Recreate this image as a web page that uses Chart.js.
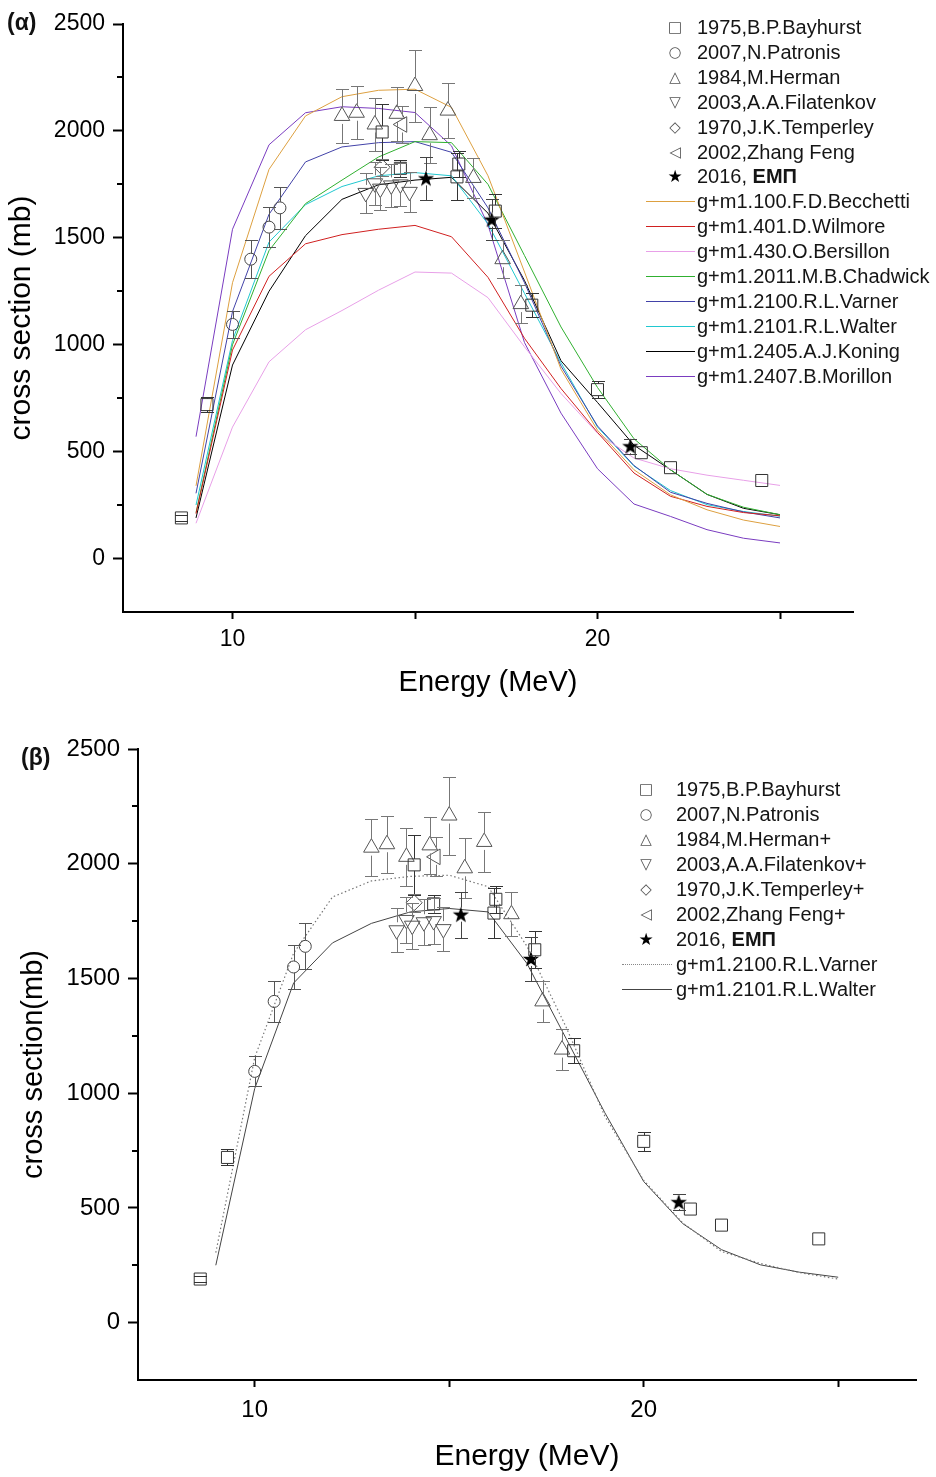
<!DOCTYPE html>
<html>
<head>
<meta charset="utf-8">
<script src="https://cdn.jsdelivr.net/npm/chart.js@4.4.1/dist/chart.umd.min.js"></script>
<style>
  html,body{margin:0;padding:0;background:#fff;}
  body{width:936px;height:1477px;position:relative;overflow:hidden;font-family:"Liberation Sans",Arial,sans-serif;color:#111;}
  canvas{position:absolute;left:0;}
  #ca{top:0;}
  #cb{top:700px;}
  .panel{position:absolute;font-weight:bold;font-size:23px;line-height:26px;}
  .lrow{position:absolute;height:24px;line-height:24px;font-size:20px;white-space:nowrap;color:#151515;}
  .sym{position:absolute;width:24px;text-align:center;font-family:"DejaVu Sans",sans-serif;font-size:15px;color:#555;}
  .seg{position:absolute;height:1px;}
</style>
</head>
<body>
<canvas id="ca" width="936" height="700"></canvas>
<canvas id="cb" width="936" height="777"></canvas>
<div class="panel" style="left:7px;top:9px;">(α)</div>
<div class="panel" style="left:21px;top:744px;">(β)</div>
<div id="lega"></div>
<div id="legb"></div>
<script>
// ---------------- DATA ----------------
// Experimental data (Energy in MeV, cross section in mb, error in mb; 0 = no bar shown)
const bayhurstE   = [8.6, 9.3, 14.1, 14.6, 16.15, 16.2, 17.2, 18.2, 20.0, 21.2, 22.0, 24.5];
const bayhurstV   = [190, 720, 1995, 1825, 1785, 1845, 1625, 1185, 790, 495, 425, 365];
const bayhurstErr = [15, 35, 130, 40, 110, 60, 80, 55, 40, 0, 0, 0];

const patronisE   = [10.0, 10.5, 11.0, 11.3];
const patronisV   = [1095, 1400, 1550, 1640];
const patronisErr = [65, 90, 95, 100];

const hermanE     = [13.0, 13.4, 13.9, 14.5, 15.0, 15.4, 15.9, 16.6, 17.4, 17.9];
const hermanV     = [2070, 2085, 2030, 2080, 2210, 1980, 2095, 1780, 1400, 1190];
const hermanErr   = [125, 125, 125, 125, 170, 130, 130, 95, 90, 90];

const filatE      = [13.65, 13.9, 14.05, 14.35, 14.6, 14.85];
const filatV      = [1710, 1755, 1730, 1745, 1750, 1715];
const filatErr    = [95, 100, 100, 100, 100, 95];

const temperleyE  = [14.1];
const temperleyV  = [1830];
const temperleyErr= [40];

const zhangE      = [14.65];
const zhangV      = [2030];
const zhangErr    = [85];

const empE        = [15.3, 17.1, 20.9];
const empV        = [1778, 1585, 525];
const empErr      = [100, 95, 35];

// Model calculations (g+m1 curves)
const modelE    = [9,10,11,12,13,14,15,16,17,18,19,20,21,22,23,24,25];
const becchetti = [340,1290,1820,2070,2160,2190,2195,2110,1790,1340,885,600,415,298,228,180,150];
const wilmore   = [210,975,1320,1472,1515,1540,1558,1505,1315,1030,795,590,400,291,244,215,200];
const bersillon = [165,615,920,1070,1160,1255,1340,1335,1220,990,772,586,470,420,390,366,342];
const chadwick  = [215,1000,1440,1660,1770,1878,1950,1945,1750,1417,1083,800,560,415,300,240,205];
const varner    = [305,1155,1610,1855,1925,1945,1950,1900,1640,1290,900,620,435,310,258,218,190];
const walter    = [250,1020,1480,1655,1740,1790,1805,1790,1565,1240,915,615,432,318,252,220,198];
const koning    = [190,905,1250,1510,1680,1748,1770,1783,1615,1300,925,730,530,415,300,235,205];
const morillon  = [570,1540,1935,2085,2113,2105,2086,1930,1560,1010,680,420,255,197,135,95,73];

// Tick values
const xTicks = [10, 15, 20, 25];
const yTicks = [0, 250, 500, 750, 1000, 1250, 1500, 1750, 2000, 2250, 2500];

// Labels
const expLabelsA = ['1975,B.P.Bayhurst','2007,N.Patronis','1984,M.Herman','2003,A.A.Filatenkov','1970,J.K.Temperley','2002,Zhang Feng','2016, '];
const expLabelsB = ['1975,B.P.Bayhurst','2007,N.Patronis','1984,M.Herman+','2003,A.A.Filatenkov+','1970,J.K.Temperley+','2002,Zhang Feng+','2016, '];
const empBold = 'ΕΜΠ';
const modelLabels = ['g+m1.100.F.D.Becchetti','g+m1.401.D.Wilmore','g+m1.430.O.Bersillon','g+m1.2011.M.B.Chadwick','g+m1.2100.R.L.Varner','g+m1.2101.R.L.Walter','g+m1.2405.A.J.Koning','g+m1.2407.B.Morillon'];

// ---------------- HELPERS ----------------
function pts(E, V){ return E.map((e,i)=>({x:e, y:V[i]})); }

function starImage(){
  const c = document.createElement('canvas');
  c.width = 18; c.height = 18;
  const g = c.getContext('2d');
  g.fillStyle = '#000';
  g.beginPath();
  for (let i=0;i<10;i++){
    const r = (i%2) ? 3.4 : 8.6;
    const a = -Math.PI/2 + i*Math.PI/5;
    g.lineTo(9 + r*Math.cos(a), 9.5 + r*Math.sin(a));
  }
  g.closePath(); g.fill();
  return c;
}
const STAR = starImage();

function expDatasets(labels){
  const base = {showLine:false, backgroundColor:'rgba(0,0,0,0)', pointBorderWidth:1, order:0};
  return [
    Object.assign({label:labels[0], data:pts(bayhurstE,bayhurstV), err:bayhurstErr, errColor:'#333', gap:6,
      pointStyle:'rect', pointRadius:8.5, borderColor:'#333'}, base),
    Object.assign({label:labels[1], data:pts(patronisE,patronisV), err:patronisErr, errColor:'#555', gap:6,
      pointStyle:'circle', pointRadius:6, borderColor:'#444'}, base),
    Object.assign({label:labels[2], data:pts(hermanE,hermanV), err:hermanErr, errColor:'#777', gap:8,
      pointStyle:'triangle', pointRadius:9, borderColor:'#555'}, base),
    Object.assign({label:labels[3], data:pts(filatE,filatV), err:filatErr, errColor:'#777', gap:8,
      pointStyle:'triangle', pointRotation:180, pointRadius:9, borderColor:'#555'}, base),
    Object.assign({label:labels[4], data:pts(temperleyE,temperleyV), err:temperleyErr, errColor:'#777', gap:7,
      pointStyle:'rectRot', pointRadius:8, borderColor:'#555'}, base),
    Object.assign({label:labels[5], data:pts(zhangE,zhangV), err:zhangErr, errColor:'#777', gap:8,
      pointStyle:'triangle', pointRotation:270, pointRadius:9, borderColor:'#555'}, base),
    Object.assign({label:labels[6]+empBold, data:pts(empE,empV), err:empErr, errColor:'#444', gap:7,
      pointStyle:STAR, pointRadius:8, borderColor:'#000'}, base)
  ];
}

function lineDs(label, vals, color, dash, width){
  return {label, data:pts(modelE, vals), showLine:true, borderColor:color, borderWidth:width||1,
    borderDash:dash||[], pointRadius:0, tension:0, fill:false, order:1};
}

const errPlugin = {
  id:'errbars',
  afterDatasetsDraw(chart){
    const {ctx} = chart; const x = chart.scales.x, y = chart.scales.y;
    chart.data.datasets.forEach(ds=>{
      if(!ds.err) return;
      ctx.save();
      ctx.strokeStyle = ds.errColor || '#777';
      ctx.lineWidth = 1;
      ds.data.forEach((p,j)=>{
        const e = ds.err[j];
        if (!e) return;
        const px = Math.round(x.getPixelForValue(p.x)) + 0.5;
        const py = y.getPixelForValue(p.y);
        const top = Math.round(y.getPixelForValue(p.y + e)) + 0.5;
        const bot = Math.round(y.getPixelForValue(p.y - e)) + 0.5;
        const g = ds.gap || 7;
        ctx.beginPath();
        if (py - g > top){ ctx.moveTo(px, top); ctx.lineTo(px, py - g); }
        if (bot > py + g){ ctx.moveTo(px, py + g); ctx.lineTo(px, bot); }
        ctx.moveTo(px-6.5, top); ctx.lineTo(px+6.5, top);
        ctx.moveTo(px-6.5, bot); ctx.lineTo(px+6.5, bot);
        ctx.stroke();
      });
      ctx.restore();
    });
  }
};

const minorTickPlugin = {
  id:'minorticks',
  afterDraw(chart){
    const {ctx} = chart; const y = chart.scales.y;
    ctx.save(); ctx.strokeStyle='#000'; ctx.lineWidth=2;
    yTicks.filter(v=>v%500!==0).forEach(v=>{
      const py = Math.round(y.getPixelForValue(v));
      ctx.beginPath(); ctx.moveTo(chart.chartArea.left-6, py); ctx.lineTo(chart.chartArea.left, py); ctx.stroke();
    });
    ctx.restore();
  }
};

function makeChart(id, datasets, L){
  return new Chart(document.getElementById(id), {
    type:'scatter',
    data:{datasets},
    options:{
      responsive:false, animation:false, devicePixelRatio:1,
      layout:{padding:{top:L.top, right:L.right, left:0, bottom:L.bottom}},
      plugins:{legend:{display:false}, tooltip:{enabled:false}},
      scales:{
        x:{type:'linear', min:7, max:27,
          afterBuildTicks:s=>{ s.ticks = xTicks.map(v=>({value:v})); },
          ticks:{callback:v=> (v%10===0 ? String(v) : ''), font:{family:'Liberation Sans', size:L.tickSize}, color:'#000',
                 padding:L.xPad, maxRotation:0, autoSkip:false},
          grid:{drawOnChartArea:false, drawTicks:true, tickLength:7, tickColor:'#000', tickWidth:2},
          border:{display:true, color:'#000', width:2},
          title:{display:true, text:'Energy (MeV)', font:{family:'Liberation Sans', size:L.titleSize}, color:'#000', padding:{top:0,bottom:L.xTitlePad}},
          afterFit:s=>{ s.height = L.xh; }
        },
        y:{type:'linear', min:-250, max:2500,
          afterBuildTicks:s=>{ s.ticks = yTicks.map(v=>({value:v})); },
          ticks:{callback:v=> (v%500===0 ? String(v) : ''), font:{family:'Liberation Sans', size:L.tickSize}, color:'#000',
                 padding:L.yPad, autoSkip:false},
          grid:{drawOnChartArea:false, drawTicks:true, tickLength:10,
                tickColor:c=> (c.tick && c.tick.value%500===0 ? '#000' : 'rgba(0,0,0,0)'), tickWidth:2},
          border:{display:true, color:'#000', width:2},
          title:{display:true, text:L.yTitle, font:{family:'Liberation Sans', size:L.yTitleSize}, color:'#000', padding:{top:L.yTitlePad,bottom:0}},
          afterFit:s=>{ s.width = L.yw; }
        }
      }
    },
    plugins:[errPlugin, minorTickPlugin]
  });
}

// ---------------- CHART α ----------------
const modelColors = ['#DDA040','#D02020','#E8A0E8','#30B030','#4242A8','#20C8D0','#000000','#7A3CC0'];
const modelVals = [becchetti, wilmore, bersillon, chadwick, varner, walter, koning, morillon];
const dsA = expDatasets(expLabelsA).concat(modelLabels.map((l,i)=>lineDs(l, modelVals[i], modelColors[i])));
makeChart('ca', dsA, {top:24, right:83, bottom:0, xh:88, yw:123, tickSize:23, titleSize:29, yTitleSize:30,
  xPad:7, yPad:8, xTitlePad:0, yTitle:'cross section (mb)', yTitlePad:4});

// ---------------- CHART β ----------------
const dsB = expDatasets(expLabelsB).concat([
  lineDs(modelLabels[4], varner, '#777', [1.5,2.5], 1.2),
  lineDs(modelLabels[5], walter, '#444', [], 1)
]);
makeChart('cb', dsB, {top:49, right:20, bottom:0, xh:97, yw:138, tickSize:24, titleSize:30, yTitleSize:29,
  xPad:9, yPad:8, xTitlePad:2, yTitle:'cross section(mb)', yTitlePad:17});

// ---------------- LEGENDS (HTML text) ----------------
const symChars = ['\u25A1','\u25CB','\u25B3','\u25BD','\u25C7','\u25C1','\u2605'];
function buildLegend(hostId, expLabels, lines, L){
  const host = document.getElementById(hostId);
  let i = 0;
  expLabels.forEach((lab,k)=>{
    const cy = L.y0 + i*L.dy;
    const s = document.createElement('div');
    s.className='sym'; s.textContent = symChars[k];
    s.style.left = (L.symX-12)+'px'; s.style.top = (cy-12)+'px'; s.style.height='24px'; s.style.lineHeight='24px';
    if (k===6){ s.style.color='#000'; s.style.fontSize='17px'; }
    host.appendChild(s);
    const t = document.createElement('div');
    t.className='lrow'; t.style.left = L.textX+'px'; t.style.top=(cy-12)+'px';
    if (k===6){ t.textContent = lab; const b=document.createElement('b'); b.textContent=empBold; t.appendChild(b); }
    else t.textContent = lab;
    host.appendChild(t);
    i++;
  });
  lines.forEach(ln=>{
    const cy = L.y0 + i*L.dy;
    const seg = document.createElement('div');
    seg.className='seg';
    seg.style.left = L.lineX0+'px'; seg.style.width=(L.lineX1-L.lineX0)+'px'; seg.style.top=(Math.round(cy))+'px';
    if (ln.dotted){ seg.style.height='0'; seg.style.borderTop='1px dotted '+ln.color; }
    else { seg.style.background = ln.color; }
    host.appendChild(seg);
    const t = document.createElement('div');
    t.className='lrow'; t.style.left = L.textX+'px'; t.style.top=(cy-12)+'px';
    t.textContent = ln.label;
    host.appendChild(t);
    i++;
  });
}
buildLegend('lega', expLabelsA, modelLabels.map((l,k)=>({label:l, color:modelColors[k]})),
  {y0:27, dy:24.9, symX:675, textX:697, lineX0:646, lineX1:695});
buildLegend('legb', expLabelsB, [{label:modelLabels[4], color:'#888', dotted:true},{label:modelLabels[5], color:'#444'}],
  {y0:789, dy:25, symX:646, textX:676, lineX0:622, lineX1:672});
</script>
</body>
</html>
